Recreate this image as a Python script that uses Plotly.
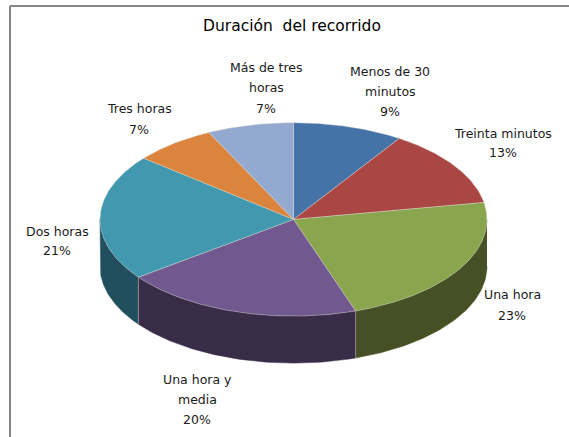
import numpy as np
import plotly.graph_objects as go

title = "Duración  del recorrido"
categories = ["Menos de 30 minutos", "Treinta minutos", "Una hora", "Una hora y media",
              "Dos horas", "Tres horas", "Más de tres horas"]
values = [9.2, 13.0, 22.6, 20.0, 21.1, 6.9, 7.2]
label_lines = [["Menos de 30", "minutos"], ["Treinta minutos"], ["Una hora"], ["Una hora y", "media"],
               ["Dos horas"], ["Tres horas"], ["Más de tres", "horas"]]
top_colors = ["#4573a7", "#aa4644", "#89a54e", "#71588f", "#4298af", "#db843d", "#93a9cf"]
wall_colors = ["#2a4564", "#662a29", "#465024", "#392c49", "#214f5e", "#84501f", "#58657c"]

# Layout of the projected pie, in page pixels
W, H = 569, 437
CX, CY, RX, RY, DEPTH = 293.5, 219.4, 193.5, 96.7, 47
label_pos = [(390, 71, 20), (503, 133, 19), (512, 294, 21), (197, 379, 20),
             (57, 231, 19), (139, 108, 21), (266, 67, 20.5)]


def rim(theta_deg, drop=0.0):
    t = np.radians(theta_deg)
    return CX + RX * np.sin(t), CY - RY * np.cos(t) + drop


fig = go.Figure()
total = sum(values)
edges = np.cumsum([0] + values) / total * 360

# Side walls (only the front half of the cylinder can be seen)
for i in range(len(values)):
    a, b = max(edges[i], 90), min(edges[i + 1], 270)
    if a >= b:
        continue
    th = np.linspace(a, b, 80)
    x1, y1 = rim(th)
    x2, y2 = rim(th[::-1], DEPTH)
    fig.add_trace(go.Scatter(x=np.r_[x1, x2], y=np.r_[y1, y2], mode="lines", fill="toself",
                             fillcolor=wall_colors[i], line=dict(color=wall_colors[i], width=0.5),
                             hoverinfo="skip", showlegend=False))

# Wall separators
for e in edges[1:-1]:
    if 90 < e < 270:
        x1, y1 = rim(e)
        x2, y2 = rim(e, DEPTH)
        fig.add_trace(go.Scatter(x=[x1, x2], y=[y1, y2], mode="lines",
                                 line=dict(color="#8a8a8a", width=1),
                                 hoverinfo="skip", showlegend=False))

# Top face
for i, name in enumerate(categories):
    th = np.linspace(edges[i], edges[i + 1], 120)
    x, y = rim(th)
    fig.add_trace(go.Scatter(x=np.r_[CX, x, CX], y=np.r_[CY, y, CY], mode="lines", fill="toself",
                             fillcolor=top_colors[i], line=dict(color="rgba(220,220,210,0.55)", width=0.7),
                             name=name, hoverinfo="skip", showlegend=False))

annotations = [dict(x=292, y=26, text=title, showarrow=False, xref="x", yref="y", xanchor="center", yanchor="middle",
                    font=dict(family="DejaVu Sans", size=15.5, color="#000000"))]
for lines, v, (lx, ly, step) in zip(label_lines, values, label_pos):
    for j, line in enumerate(lines + [f"{round(v)}%"]):
        annotations.append(dict(x=lx, y=ly + j * step, text=line, showarrow=False, xref="x", yref="y",
                                xanchor="center", yanchor="middle",
                                font=dict(family="DejaVu Sans", size=12.5, color="#1a1a1a")))

fig.update_layout(
    width=W, height=H, margin=dict(l=0, r=0, t=0, b=0), autosize=False,
    paper_bgcolor="white", plot_bgcolor="white",
    xaxis=dict(range=[0, W], visible=False, fixedrange=True),
    yaxis=dict(range=[H, 0], visible=False, fixedrange=True),
    annotations=annotations,
    shapes=[dict(type="line", xref="x", yref="y", x0=10, x1=10, y0=6, y1=H, line=dict(color="#868686", width=2)),
            dict(type="line", xref="x", yref="y", x0=10, x1=W, y0=6, y1=6, line=dict(color="#868686", width=2))],
)
fig.write_html("out.html", config=dict(displayModeBar=False),
               post_script="document.body.style.margin='0';document.documentElement.style.overflow='hidden';")
